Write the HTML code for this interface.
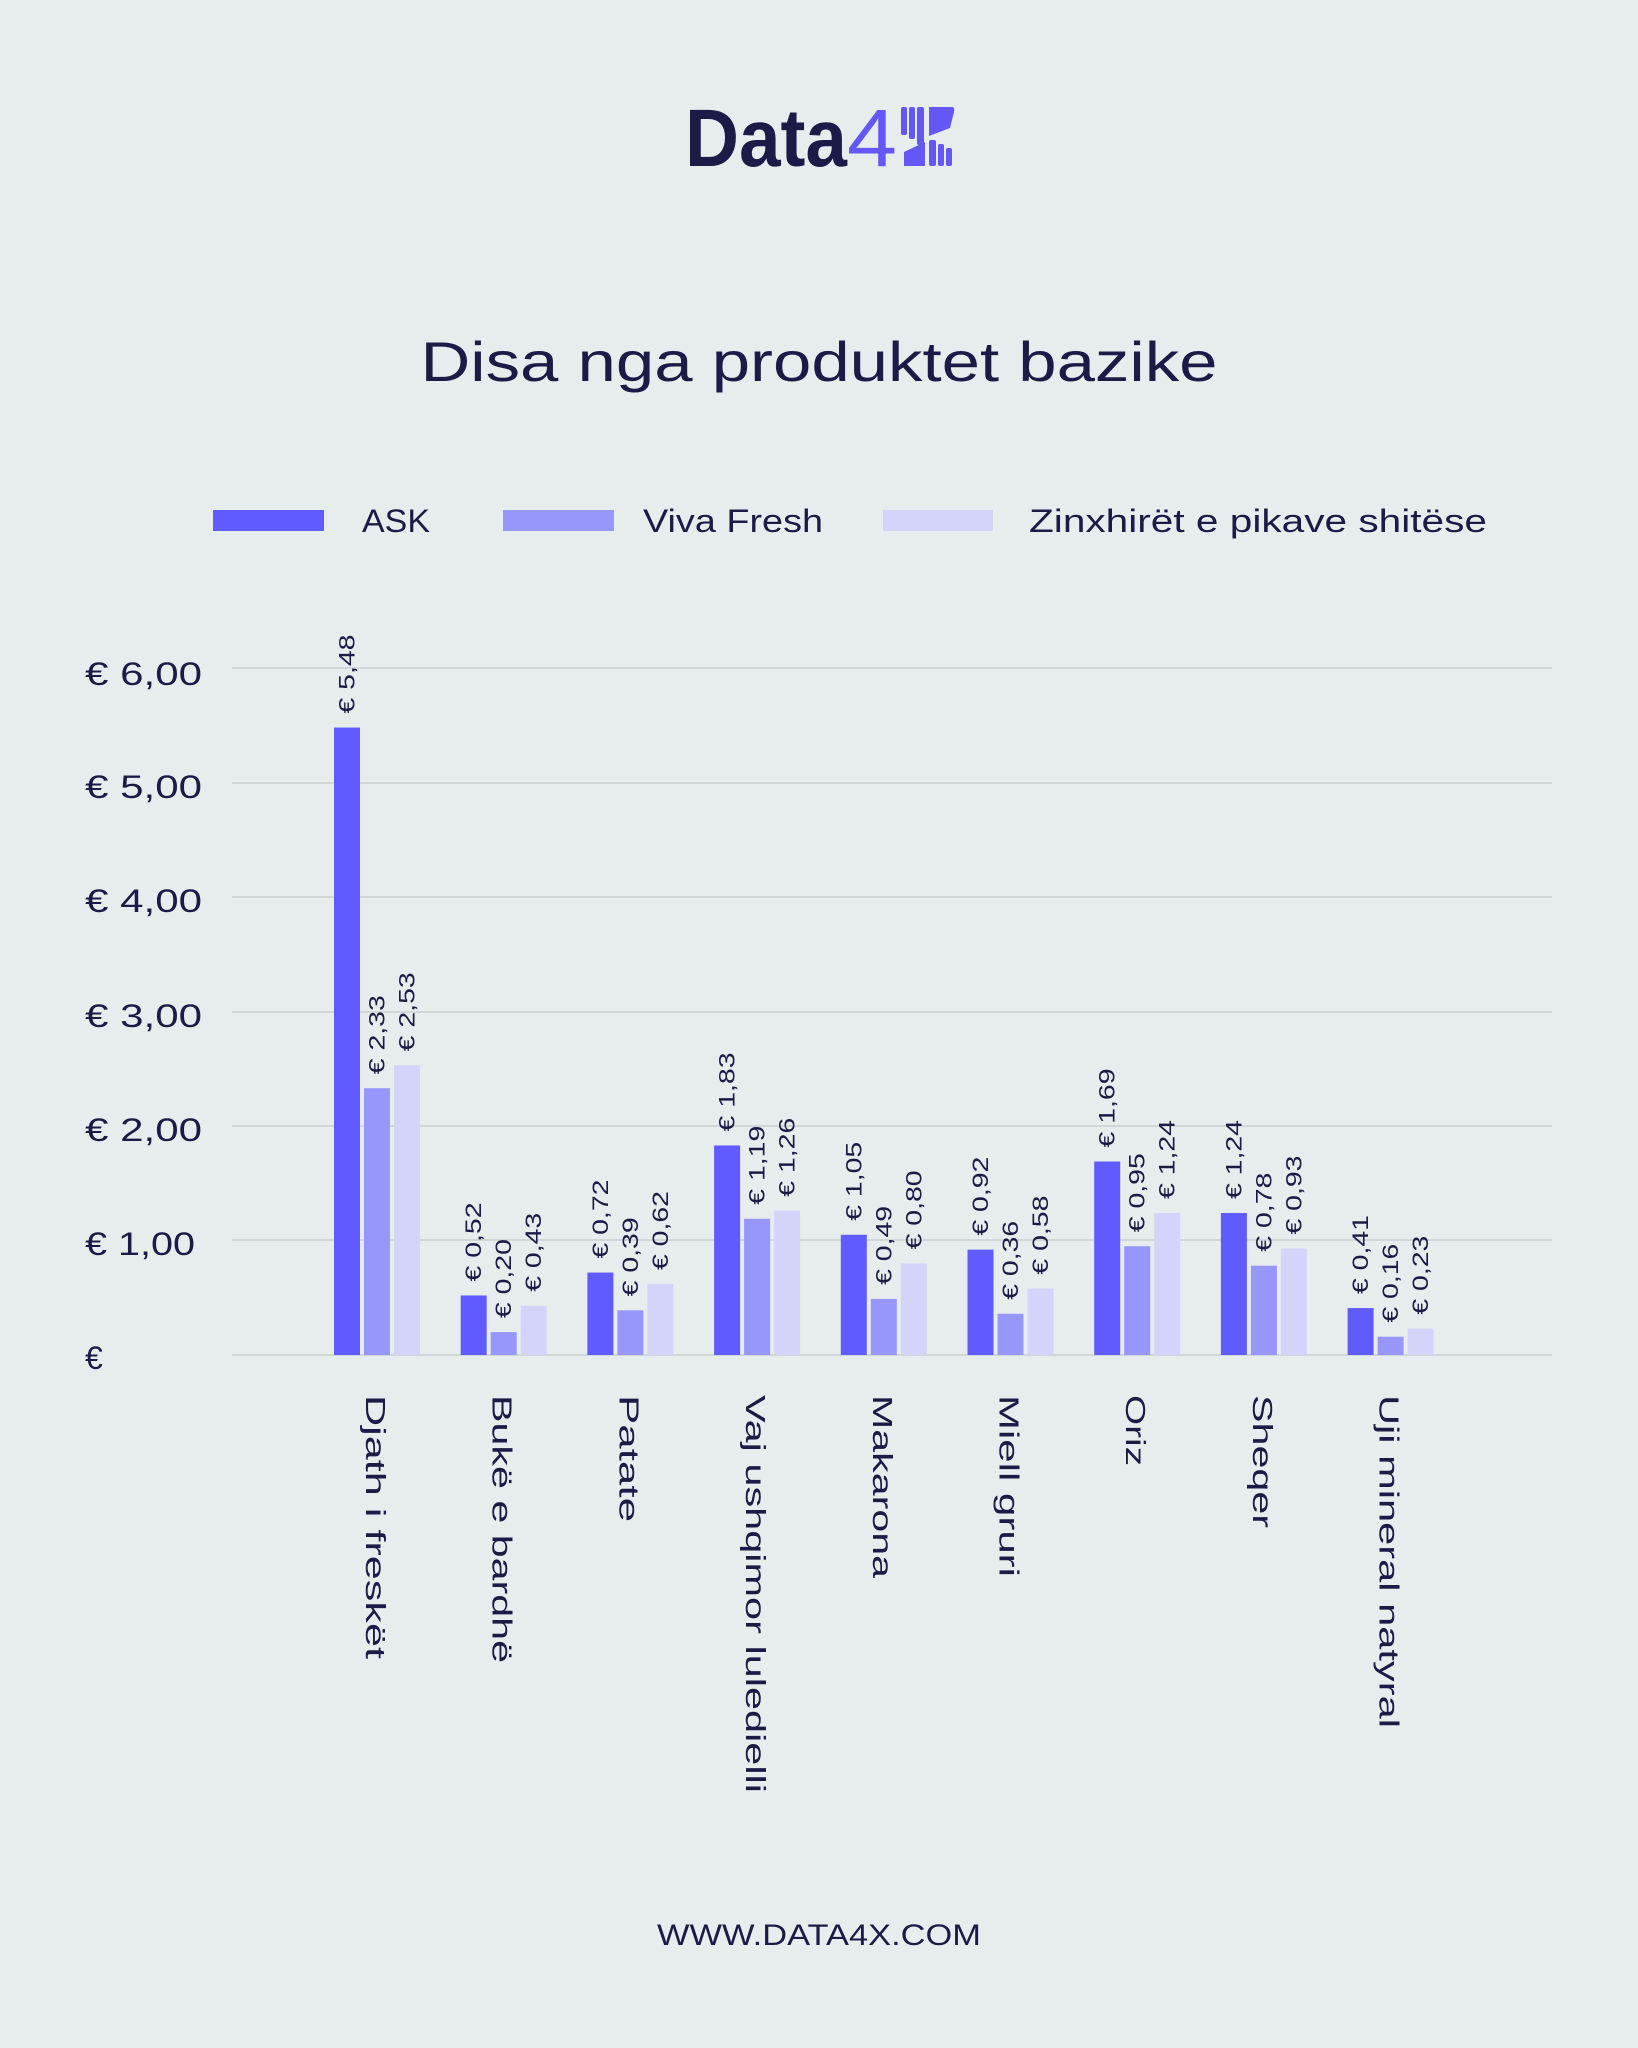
<!DOCTYPE html>
<html><head><meta charset="utf-8"><style>
html,body{margin:0;padding:0;background:#e7eded;}
svg{display:block;font-family:"Liberation Sans",sans-serif;}
</style></head><body>
<svg width="1638" height="2048" viewBox="0 0 1638 2048" xmlns="http://www.w3.org/2000/svg">
<rect width="1638" height="2048" fill="#e7eded"/>
<!-- logo -->
<text x="685" y="166" font-size="82" font-weight="bold" fill="#1c1a47" textLength="162" lengthAdjust="spacingAndGlyphs">Data</text>
<text x="847" y="166" font-size="82" fill="#6557f5" textLength="50" lengthAdjust="spacingAndGlyphs">4</text>
<g fill="#6557f5">
<rect x="901" y="107" width="6" height="28" rx="2"/><rect x="909" y="107" width="6" height="32" rx="2"/><rect x="917" y="107" width="7" height="38" rx="2"/>
<path d="M929 107 H952 Q955 107 954 112 L950 128 L929 136 Z"/>
<path d="M904 166 V152 L925 142 V166 Z"/>
<rect x="929" y="140" width="7" height="26" rx="2"/><rect x="938" y="144" width="6" height="22" rx="2"/><rect x="946" y="148" width="6" height="18" rx="2"/>
</g>
<!-- title -->
<text x="819" y="381" font-size="56" fill="#1c1a47" text-anchor="middle" textLength="797" lengthAdjust="spacingAndGlyphs">Disa nga produktet bazike</text>
<!-- legend -->
<rect x="213" y="510" width="111" height="21" fill="#5f5bff"/>
<text x="362" y="532" font-size="32" fill="#1c1a47" textLength="68" lengthAdjust="spacingAndGlyphs">ASK</text>
<rect x="503" y="510" width="111" height="21" fill="#9696fb"/>
<text x="643" y="532" font-size="32" fill="#1c1a47" textLength="180" lengthAdjust="spacingAndGlyphs">Viva Fresh</text>
<rect x="883" y="510" width="110" height="21" fill="#d4d4fa"/>
<text x="1029" y="532" font-size="32" fill="#1c1a47" textLength="458" lengthAdjust="spacingAndGlyphs">Zinxhirët e pikave shitëse</text>
<!-- grid -->
<g stroke="#c9d0d0" stroke-width="1.5">
<line x1="232" y1="668" x2="1552" y2="668"/>
<line x1="232" y1="783" x2="1552" y2="783"/>
<line x1="232" y1="897" x2="1552" y2="897"/>
<line x1="232" y1="1012" x2="1552" y2="1012"/>
<line x1="232" y1="1126" x2="1552" y2="1126"/>
<line x1="232" y1="1240" x2="1552" y2="1240"/>
<line x1="232" y1="1355" x2="1552" y2="1355"/>
</g>
<g font-size="32" fill="#1c1a47">
<text x="85" y="685" textLength="117" lengthAdjust="spacingAndGlyphs">€ 6,00</text>
<text x="85" y="798" textLength="117" lengthAdjust="spacingAndGlyphs">€ 5,00</text>
<text x="85" y="912" textLength="117" lengthAdjust="spacingAndGlyphs">€ 4,00</text>
<text x="85" y="1027" textLength="117" lengthAdjust="spacingAndGlyphs">€ 3,00</text>
<text x="85" y="1141" textLength="117" lengthAdjust="spacingAndGlyphs">€ 2,00</text>
<text x="85" y="1255" textLength="110" lengthAdjust="spacingAndGlyphs">€ 1,00</text>
<text x="85" y="1369">€</text>
</g>
<g id="bars"></g>
<g font-size="28" fill="#1c1a47" id="cats"></g>
<text x="819" y="1945" font-size="30" fill="#1c1a47" text-anchor="middle" textLength="324" lengthAdjust="spacingAndGlyphs">WWW.DATA4X.COM</text>
<script>
var data=[["Djath i freskët",[5.48,2.33,2.53],264],["Bukë e bardhë",[0.52,0.20,0.43],268],["Patate",[0.72,0.39,0.62],127],["Vaj ushqimor luledielli",[1.83,1.19,1.26],398],["Makarona",[1.05,0.49,0.80],183],["Miell gruri",[0.92,0.36,0.58],182],["Oriz",[1.69,0.95,1.24],71],["Sheqer",[1.24,0.78,0.93],133],["Uji mineral natyral",[0.41,0.16,0.23],333]];
var cols=["#5f5bff","#9696fb","#d4d4fa"];
var ns="http://www.w3.org/2000/svg",b=document.getElementById("bars"),c=document.getElementById("cats");
var zero=1355,sc=114.5;
function el(t,a,p,txt){var e=document.createElementNS(ns,t);for(var k in a)e.setAttribute(k,a[k]);if(txt)e.textContent=txt;p.appendChild(e);return e;}
data.forEach(function(d,i){
  var x0=334+126.7*i;
  d[1].forEach(function(v,j){
    var x=x0+30*j,h=v*sc,y=zero-h,cx=x+12.5;
    el("rect",{x:x,y:y,width:26,height:h,fill:cols[j]},b);
    el("text",{transform:"translate("+(cx+8)+","+(y-14)+") rotate(-90)","font-size":"22",fill:"#1c1a47",textLength:"79",lengthAdjust:"spacingAndGlyphs"},b,"€ "+v.toFixed(2).replace(".",","));
  });
  var cx=x0+30+13;
  el("text",{transform:"translate("+(cx-11)+",1395) rotate(90)",textLength:d[2],lengthAdjust:"spacingAndGlyphs"},c,d[0]);
});
</script>
</svg>
</body></html>
